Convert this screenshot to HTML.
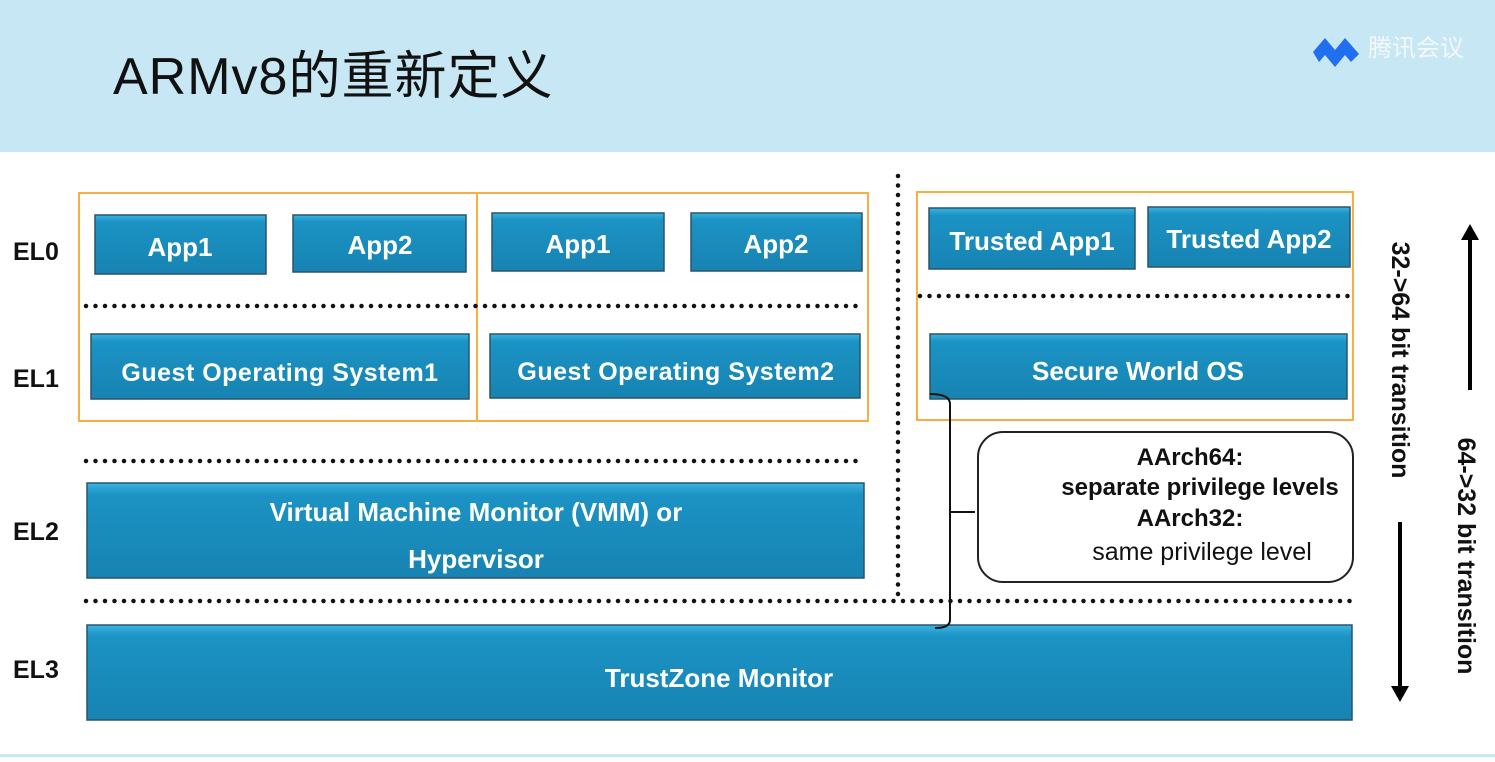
<!DOCTYPE html>
<html><head><meta charset="utf-8"><style>
body{margin:0;width:1495px;height:757px;overflow:hidden;background:#fff;}
</style></head><body>
<svg width="1495" height="757" xmlns="http://www.w3.org/2000/svg" font-family="Liberation Sans, sans-serif">
<defs>
<linearGradient id="g" x1="0" y1="0" x2="0" y2="1">
<stop offset="0" stop-color="#3ab4e2"/><stop offset="0.12" stop-color="#1b93c4"/><stop offset="1" stop-color="#1783b2"/>
</linearGradient>
<marker id="ah" markerWidth="16" markerHeight="18" refX="8" refY="9" orient="auto" markerUnits="userSpaceOnUse" viewBox="0 0 16 18">
<path d="M0,0 L16,9 L0,18 z" fill="#000"/></marker>
</defs>
<rect x="0" y="0" width="1495" height="152" fill="#c6e7f3"/>
<text x="113" y="94" font-size="52" fill="#111" letter-spacing="1" font-family="Liberation Sans, Noto Sans CJK SC, sans-serif">ARMv8的重新定义</text>
<g>
<path d="M1313,52 l12,-14 l10,12 l10,-12 l14,16 l-8,8 l-6,-7 l-10,12 l-10,-12 l-6,7 z" fill="#1f6ff0"/>
<text x="1368" y="56" font-size="24" fill="#f4f8fa" font-family="Noto Sans CJK SC, sans-serif">腾讯会议</text>
</g>
<rect x="0" y="754" width="1495" height="3" fill="#c6e7f3"/>

<g fill="none" stroke="#f5b041" stroke-width="2">
<rect x="79" y="193" width="398" height="228"/>
<rect x="477" y="193" width="391" height="228"/>
<rect x="917" y="192" width="436" height="228"/>
</g>

<g stroke="#111" stroke-width="4.5" stroke-linecap="round" stroke-dasharray="0 9.5">
<line x1="86" y1="306" x2="858" y2="306"/>
<line x1="920" y1="296" x2="1352" y2="296"/>
<line x1="86" y1="461" x2="858" y2="461"/>
<line x1="86" y1="601" x2="1355" y2="601"/>
<line x1="898" y1="176" x2="898" y2="598"/>
</g>

<g stroke="#2a5468" stroke-width="1.5" fill="url(#g)">
<rect x="95" y="215" width="171" height="59"/>
<rect x="293" y="215" width="173" height="57"/>
<rect x="492" y="213" width="172" height="58"/>
<rect x="691" y="213" width="171" height="58"/>
<rect x="929" y="208" width="206" height="61"/>
<rect x="1148" y="207" width="202" height="60"/>
<rect x="91" y="334" width="378" height="65"/>
<rect x="490" y="334" width="370" height="64"/>
<rect x="930" y="334" width="417" height="65"/>
<rect x="87" y="483" width="777" height="95"/>
<rect x="87" y="625" width="1265" height="95"/>
</g>
<g fill="#fff" font-weight="bold" font-size="26" text-anchor="middle">
<text x="180" y="256">App1</text>
<text x="380" y="254">App2</text>
<text x="578" y="253">App1</text>
<text x="776" y="253">App2</text>
<text x="1032" y="250">Trusted App1</text>
<text x="1249" y="248">Trusted App2</text>
<text x="280" y="381" font-size="25" letter-spacing="0.5">Guest Operating System1</text>
<text x="676" y="380" font-size="25" letter-spacing="0.5">Guest Operating System2</text>
<text x="1138" y="380">Secure World OS</text>
<text x="476" y="521">Virtual Machine Monitor (VMM) or</text>
<text x="476" y="568">Hypervisor</text>
<text x="719" y="687">TrustZone Monitor</text>
</g>

<g font-weight="bold" font-size="25" fill="#111">
<text x="13" y="260">EL0</text>
<text x="13" y="387">EL1</text>
<text x="13" y="540">EL2</text>
<text x="13" y="678">EL3</text>
</g>

<path d="M930,394 Q950,394 950,404 L950,512 L975,512 M950,512 L950,620 Q950,628 935,628" fill="none" stroke="#111" stroke-width="2"/>
<rect x="978" y="432" width="375" height="150" rx="25" fill="#fff" stroke="#222" stroke-width="2"/>
<g font-size="24" fill="#111" text-anchor="middle">
<text x="1190" y="465" font-weight="bold">AArch64:</text>
<text x="1200" y="495" font-weight="bold">separate privilege levels</text>
<text x="1190" y="526" font-weight="bold">AArch32:</text>
<text x="1202" y="560" font-size="25">same privilege level</text>
</g>

<text transform="translate(1392,360) rotate(90)" font-size="25" font-weight="bold" fill="#111" text-anchor="middle">32-&gt;64 bit transition</text>
<text transform="translate(1458,556) rotate(90)" font-size="25" font-weight="bold" fill="#111" text-anchor="middle">64-&gt;32 bit transition</text>
<line x1="1470" y1="390" x2="1470" y2="232" stroke="#000" stroke-width="4" marker-end="url(#ah)"/>
<line x1="1400" y1="522" x2="1400" y2="694" stroke="#000" stroke-width="4" marker-end="url(#ah)"/>
</svg>
</body></html>
